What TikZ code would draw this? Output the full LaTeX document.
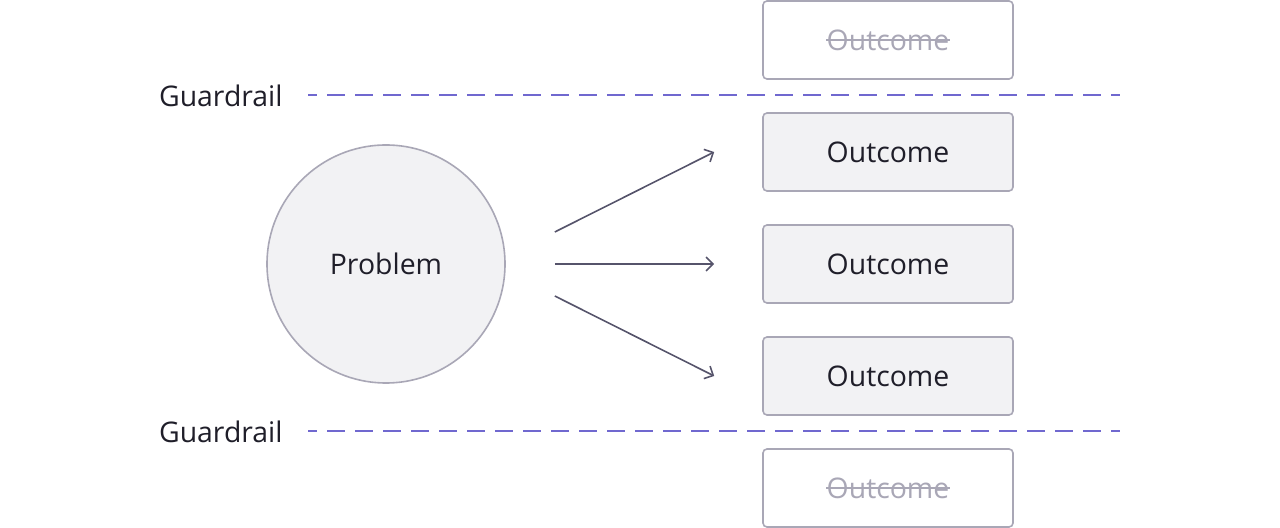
\documentclass[tikz,border=0pt]{standalone}
\usepackage{fontspec}
\setmainfont{Open Sans}
\usetikzlibrary{calc,arrows.meta}

\definecolor{boxfill}{HTML}{F2F2F4}
\definecolor{boxline}{HTML}{A9A7B6}
\definecolor{inkdark}{HTML}{1F1E29}
\definecolor{arrowline}{HTML}{56546B}
\definecolor{guardline}{HTML}{7068CF}

\begin{document}
\begin{tikzpicture}[
		x=0.5pt, y=-0.5pt,
		every node/.style={font=\fontsize{14.2}{17}\selectfont, text=inkdark},
		outcomebox/.style={draw=boxline, fill=boxfill, line width=0.8pt, rounded corners=2pt,
			minimum width=125pt, minimum height=39pt, inner sep=0pt},
		ghostbox/.style={outcomebox, fill=white},
		ghosttext/.style={text=boxline, inner sep=0pt},
		problemcircle/.style={circle, draw=boxline, fill=boxfill, line width=0.8pt,
			minimum size=119pt, inner sep=0pt},
		guardtext/.style={inner sep=0pt, anchor=east},
		guard/.style={draw=guardline, line width=0.9pt, dash pattern=on 9pt off 5pt, dash phase=4.5pt},
		flow/.style={draw=arrowline, line width=0.8pt,
			-{Straight Barb[length=3.5pt, width=7pt, line width=0.8pt]}}
	]
	\useasboundingbox (0,0) rectangle (1280,528);

	% problem
	\node[problemcircle] (problem) at (386,264) {Problem};

	% outcomes inside the guardrails
	\foreach \i/\y in {1/152, 2/264, 3/376}
		\node[outcomebox] (outcome\i) at (888,\y) {Outcome};

	% outcomes outside the guardrails
	\node[ghostbox] (ghosttop) at (888,40) {};
	\node[ghosttext] (ghosttoptext) at (ghosttop) {Outcome};
	\draw[boxline, line width=0.6pt] (ghosttoptext.west) -- (ghosttoptext.east);
	\node[ghostbox] (ghostbot) at (888,488) {};
	\node[ghosttext] (ghostbottext) at (ghostbot) {Outcome};
	\draw[boxline, line width=0.6pt] (ghostbottext.west) -- (ghostbottext.east);

	% guardrails
	\coordinate (guardend) at (1120,0);
	\node[guardtext] (guardtop) at (283,96) {Guardrail};
	\node[guardtext] (guardbot) at (283,432) {Guardrail};
	\draw[guard] ($(guardtop.east)+(25,-1)$) -- ($(guardtop.east -| guardend)+(0,-1)$);
	\draw[guard] ($(guardbot.east)+(25,-1)$) -- ($(guardbot.east -| guardend)+(0,-1)$);

	% arrows
	\draw[flow] ($(problem.east)+(49,-32)$) -- ($(outcome1.west)+(-48,0)$);
	\draw[flow] ($(problem.east)+(49,0)$) -- ($(outcome2.west)+(-48,0)$);
	\draw[flow] ($(problem.east)+(49,32)$) -- ($(outcome3.west)+(-48,0)$);
\end{tikzpicture}
\end{document}
